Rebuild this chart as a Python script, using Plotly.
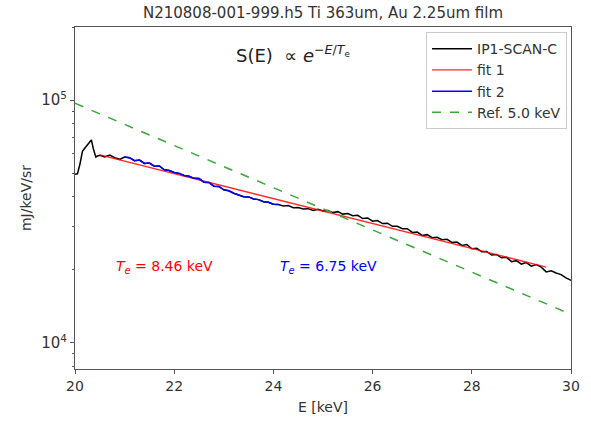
import numpy as np
import plotly.graph_objects as go

# ---- data ----
E_peak = [20.0, 20.05, 20.1, 20.15, 20.2, 20.25, 20.3, 20.33, 20.37, 20.42, 20.45]
S_peak = [49500, 49700, 54500, 61500, 63500, 65500, 68000, 68500, 63000, 58200, 58800]

E_main = [round(20.5 + 0.1 * i, 2) for i in range(96)]
S_main = [
    59200, 58300, 59300, 57900, 57000, 58300, 57900, 56300, 56600, 54800,
    55000, 53400, 53500, 51600, 51300, 50300, 49900, 48900, 48500, 47600,
    47500, 45900, 45800, 44200, 44100, 42700, 42300, 41300, 40700, 40000,
    39900, 39100, 38900, 38100, 37900, 37200, 37100, 36600, 36800, 36000,
    36100, 35600, 35700, 35100, 35500, 34900, 35100, 34400, 34700, 33900,
    34100, 33400, 33500, 32500, 32700, 31700, 31900, 31000, 31100, 30200,
    30200, 29500, 29500, 28500, 28600, 27700, 27900, 27100, 27200, 26600,
    26700, 25900, 26000, 25200, 25400, 24400, 24500, 23700, 23800, 23000,
    23100, 22400, 22500, 21600, 21800, 21100, 21400, 20700, 21000, 20500,
    19600, 19800, 19400, 19100, 18500, 18100,
]

E_data = E_peak + E_main
S_data = S_peak + S_main

# fit 2 range (data shown in blue)
fit2_range = (21.0, 24.1)
E_fit2 = [e for e in E_data if fit2_range[0] <= e <= fit2_range[1] + 1e-9]
S_fit2 = [s for e, s in zip(E_data, S_data) if fit2_range[0] <= e <= fit2_range[1] + 1e-9]

# fit 1 (exponential -> straight on log axis): endpoints
E_fit1 = [20.5, 29.5]
S_fit1 = [59400, 20500]

# reference 5.0 keV line endpoints
E_ref = [20.0, 30.0]
S_ref = [97000, 13100]

y_ticks = [1e4, 1e5]
y_ticktext = ["10<sup>4</sup>", "10<sup>5</sup>"]
y_minor = [8000, 9000, 20000, 30000, 40000, 50000, 60000, 70000, 80000, 90000, 200000]
x_ticks = [20, 22, 24, 26, 28, 30]

FONT = "DejaVu Sans"
AX = "#555555"

fig = go.Figure()
fig.add_trace(go.Scatter(x=E_data, y=S_data, mode="lines", name="IP1-SCAN-C",
                         line=dict(color="black", width=1.5)))
fig.add_trace(go.Scatter(x=E_fit1, y=S_fit1, mode="lines", name="fit 1",
                         line=dict(color="rgba(255,0,0,0.85)", width=1.3)))
fig.add_trace(go.Scatter(x=E_fit2, y=S_fit2, mode="lines", name="fit 2",
                         line=dict(color="#0000ff", width=1.5)))
fig.add_trace(go.Scatter(x=E_ref, y=S_ref, mode="lines", name="Ref. 5.0 keV",
                         line=dict(color="#3aa83a", width=1.5, dash="dash")))

fig.update_layout(
    width=591, height=427,
    margin=dict(l=75, r=20, t=27, b=58),
    paper_bgcolor="white", plot_bgcolor="white",
    font=dict(family=FONT, size=13, color="#333333"),
    title=dict(text="N210808-001-999.h5 Ti 363um, Au 2.25um film",
               x=(75 + 571) / 2 / 591, xanchor="center", y=1 - 13 / 427, yanchor="middle",
               font=dict(size=15, color="#333333")),
    legend=dict(x=0.992, y=0.985, xanchor="right", yanchor="top",
                bgcolor="rgba(255,255,255,0.9)", bordercolor="#cccccc", borderwidth=1,
                font=dict(size=14), tracegroupgap=0, itemwidth=40),
    showlegend=True,
)
fig.update_xaxes(range=[20, 30], tickvals=x_ticks, ticks="outside", ticklen=4,
                 tickcolor=AX, showline=True, linecolor=AX, linewidth=1, mirror=True,
                 showgrid=False, zeroline=False,
                 title=dict(text="E [keV]", font=dict(size=14), standoff=9),
                 tickfont=dict(size=14))
fig.update_yaxes(type="log", range=[np.log10(7800), np.log10(200000)],
                 tickvals=y_ticks, ticktext=y_ticktext, ticks="outside", ticklen=4,
                 tickcolor=AX, showline=True, linecolor=AX, linewidth=1, mirror=True,
                 showgrid=False, zeroline=False,
                 minor=dict(tickvals=y_minor, ticks="outside", ticklen=2, tickcolor=AX),
                 title=dict(text="mJ/keV/sr", font=dict(size=14), standoff=6),
                 tickfont=dict(size=15))

fig.add_annotation(x=0.44, y=0.92, xref="paper", yref="paper", showarrow=False,
                   text="S(E)  ∝ <i>e</i><sup>−<i>E</i>/<i>T</i><sub>e</sub></sup>",
                   font=dict(size=18, color="#222222"), xanchor="center", yanchor="middle")
fig.add_annotation(x=21.81, y=np.log10(20600), showarrow=False,
                   text="<i>T</i><sub><i>e</i></sub> = 8.46 keV",
                   font=dict(size=14, color="red"), xanchor="center", yanchor="middle")
fig.add_annotation(x=25.12, y=np.log10(20600), showarrow=False,
                   text="<i>T</i><sub><i>e</i></sub> = 6.75 keV",
                   font=dict(size=14, color="#0000ff"), xanchor="center", yanchor="middle")

fig.write_html("out.html")
